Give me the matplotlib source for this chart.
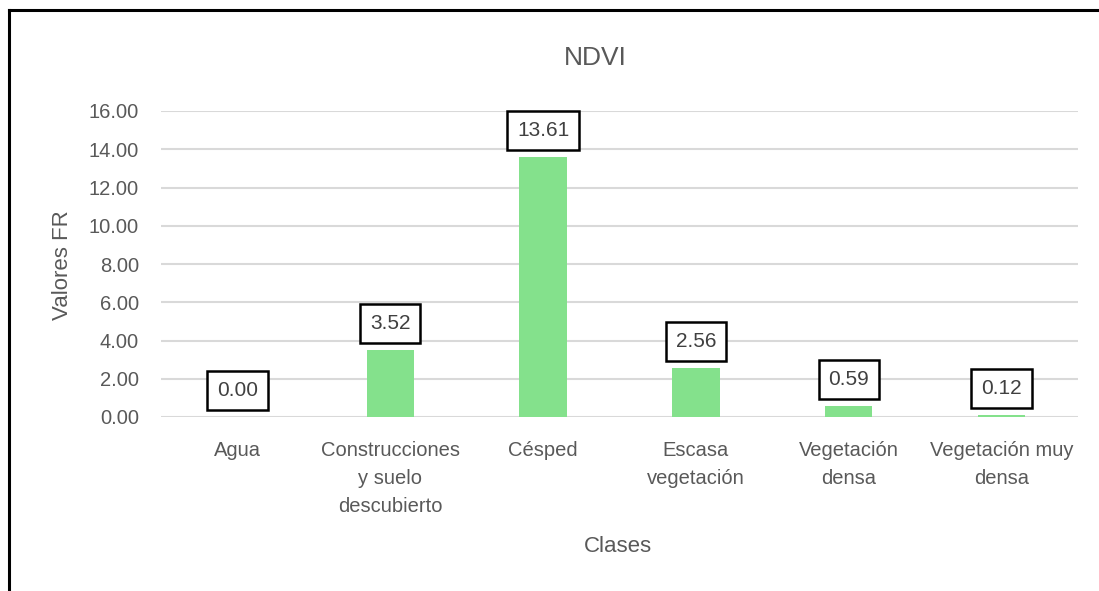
import matplotlib
matplotlib.use("Agg")
import matplotlib.pyplot as plt
from matplotlib.lines import Line2D

# ---- data ----
clases = ["Agua", "Construcciones\ny suelo\ndescubierto", "Césped",
          "Escasa\nvegetación", "Vegetación\ndensa", "Vegetación muy\ndensa"]
valores_fr = [0.00, 3.52, 13.61, 2.56, 0.59, 0.12]
yticks = [0, 2, 4, 6, 8, 10, 12, 14, 16]

BAR_COLOR = "#84E18C"
TEXT_COLOR = "#595959"
GRID_COLOR = "#D9D9D9"

plt.rcParams["font.family"] = ["Liberation Sans", "DejaVu Sans"]

fig = plt.figure(figsize=(10.99, 5.91), dpi=100)
ax = fig.add_axes([161 / 1099, 1 - 417 / 591, (1078 - 161) / 1099, 306 / 591])

x = range(len(clases))
ax.bar(x, valores_fr, width=0.31, color=BAR_COLOR, zorder=2)

ax.set_xlim(-0.5, len(clases) - 0.5)
ax.set_ylim(0, 16)
ax.set_yticks(yticks)
ax.set_yticklabels([f"{v:.2f}" for v in yticks])
ax.set_xticks(list(x))
ax.set_xticklabels(clases, linespacing=1.6, va="top")

ax.grid(axis="y", color=GRID_COLOR, linewidth=1.5, zorder=0)
for s in ax.spines.values():
    s.set_visible(False)
ax.tick_params(axis="both", length=0, colors=TEXT_COLOR, labelsize=14.5)
ax.tick_params(axis="y", pad=16)
ax.tick_params(axis="x", pad=17)

# data labels in boxes
for i, v in enumerate(valores_fr):
    ax.annotate(f"{v:.2f}", xy=(i, v), xytext=(0, 19), textcoords="offset points",
                ha="center", va="center", fontsize=15, color="#404040",
                bbox=dict(boxstyle="square,pad=0.47", fc="white", ec="black", lw=1.8),
                zorder=3)

fig.text(595 / 1099, 1 - 58 / 591, "NDVI", ha="center", va="center",
         fontsize=19, color=TEXT_COLOR)
fig.text(618 / 1099, 1 - 547 / 591, "Clases", ha="center", va="center",
         fontsize=16, color=TEXT_COLOR)
fig.text(62 / 1099, 1 - 265 / 591, "Valores FR", ha="center", va="center",
         rotation=90, fontsize=16, color=TEXT_COLOR)

# outer frame (top and left edges visible)
fig.add_artist(Line2D([9 / 1099, 1.0], [1 - 10 / 591, 1 - 10 / 591],
                      transform=fig.transFigure, color="black", lw=2.2))
fig.add_artist(Line2D([9 / 1099, 9 / 1099], [0, 1 - 10 / 591],
                      transform=fig.transFigure, color="black", lw=2.2))

fig.savefig("out.png", dpi=100)
